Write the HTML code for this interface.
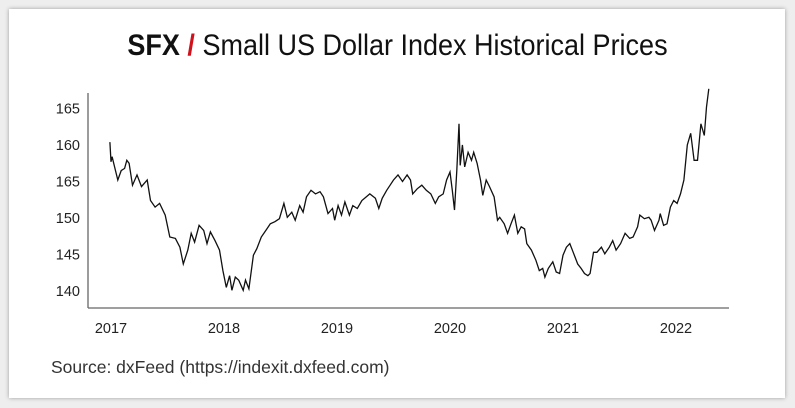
<!DOCTYPE html>
<html><head><meta charset="utf-8"><style>
body{margin:0;width:795px;height:408px;background:#eee;font-family:"Liberation Sans",sans-serif;overflow:hidden}
#card{position:absolute;left:9px;top:9px;width:776px;height:389px;background:#fff;box-shadow:0 0 4px rgba(0,0,0,.35)}
#title{position:absolute;left:0;top:29px;width:795px;text-align:center;font-family:"Liberation Sans Narrow","Liberation Sans",sans-serif;font-size:30px;color:#111;transform:scaleX(0.9);}
#src{position:absolute;left:51px;top:357px;font-size:17.5px;color:#333}
svg{position:absolute;left:0;top:0}
</style></head><body>
<div id="card"></div>
<div id="title"><b>SFX</b> <b style="color:#d0111b">/</b> Small US Dollar Index Historical Prices</div>
<svg id="chart" width="795" height="408"></svg>
<div id="src">Source: dxFeed (https://indexit.dxfeed.com)</div>
<script>
const yTickValues=[165,160,155,150,145,140];
const yTickLabels=["165","160","165","150","145","140"];
const xTickYears=[2017,2018,2019,2020,2021,2022];
const dates=[2016.99,2017.00,2017.01,2017.04,2017.06,2017.09,2017.12,2017.14,2017.16,2017.19,2017.23,2017.27,2017.32,2017.35,2017.39,2017.43,2017.48,2017.52,2017.57,2017.61,2017.64,2017.68,2017.71,2017.74,2017.78,2017.82,2017.85,2017.88,2017.92,2017.96,2017.99,2018.02,2018.05,2018.07,2018.10,2018.13,2018.17,2018.19,2018.22,2018.26,2018.29,2018.33,2018.38,2018.41,2018.45,2018.49,2018.53,2018.56,2018.60,2018.63,2018.67,2018.70,2018.73,2018.77,2018.81,2018.85,2018.88,2018.92,2018.96,2018.98,2019.01,2019.04,2019.07,2019.11,2019.14,2019.18,2019.22,2019.26,2019.29,2019.34,2019.37,2019.40,2019.44,2019.47,2019.50,2019.54,2019.58,2019.62,2019.65,2019.67,2019.71,2019.75,2019.79,2019.83,2019.87,2019.90,2019.94,2019.97,2020.00,2020.02,2020.04,2020.06,2020.08,2020.09,2020.11,2020.13,2020.16,2020.19,2020.21,2020.24,2020.27,2020.29,2020.32,2020.35,2020.39,2020.42,2020.44,2020.48,2020.51,2020.54,2020.57,2020.60,2020.63,2020.66,2020.68,2020.72,2020.76,2020.79,2020.82,2020.84,2020.87,2020.91,2020.94,2020.97,2021.00,2021.03,2021.06,2021.09,2021.13,2021.16,2021.19,2021.22,2021.24,2021.27,2021.30,2021.34,2021.37,2021.41,2021.44,2021.47,2021.51,2021.55,2021.59,2021.62,2021.66,2021.68,2021.72,2021.76,2021.78,2021.81,2021.85,2021.86,2021.89,2021.92,2021.95,2021.98,2022.01,2022.04,2022.07,2022.10,2022.13,2022.16,2022.19,2022.22,2022.25,2022.27,2022.29];
const prices=[160.4,157.7,158.4,156.5,155.2,156.5,156.8,157.9,157.5,154.5,155.9,154.3,155.2,152.4,151.5,152.0,150.4,147.4,147.2,146.0,143.7,145.6,147.9,146.7,149.0,148.3,146.5,148.1,146.9,145.6,142.8,140.5,142.1,140.1,141.9,141.5,140.1,141.5,140.3,144.9,145.8,147.4,148.5,149.2,149.5,149.9,152.0,150.1,150.8,149.7,151.7,150.8,152.9,153.8,153.3,153.6,152.9,150.6,151.3,149.7,151.7,150.4,152.2,150.4,151.7,151.3,152.4,152.9,153.3,152.7,151.3,152.7,153.8,154.5,155.2,155.9,155.0,155.9,155.2,153.3,154.0,154.5,153.8,153.3,152.0,152.9,153.3,155.2,156.3,153.8,151.1,156.5,162.9,157.2,160.0,157.0,159.0,157.9,159.0,157.5,155.2,153.1,155.2,154.3,152.9,149.7,150.1,149.2,147.9,149.2,150.4,147.9,148.8,148.5,146.5,145.6,144.2,142.8,143.1,141.9,143.1,144.0,142.6,142.4,144.9,146.0,146.5,145.3,143.7,143.1,142.4,142.1,142.4,145.3,145.3,146.0,145.1,146.0,146.9,145.6,146.5,147.9,147.2,147.4,148.8,150.4,149.9,150.1,149.7,148.3,149.7,150.6,149.0,149.2,151.5,152.4,152.0,153.3,155.2,160.0,161.6,157.9,157.9,162.9,161.3,165.2,167.7];
const NS="http://www.w3.org/2000/svg",svg=document.getElementById('chart');
const X0=88,X1=729,Y0=93,Y1=308;
const xs=t=>111+(t-2017)*113;
const ys=v=>291-(v-140)*7.3;
function mk(tag,attrs){const e=document.createElementNS(NS,tag);for(const k in attrs)e.setAttribute(k,attrs[k]);svg.appendChild(e);return e;}
let a=mk('line',{x1:X0,y1:Y0,x2:X0,y2:Y1,stroke:'#666','stroke-width':1.3});


a=mk('line',{x1:X0,y1:Y1,x2:X1,y2:Y1,stroke:'#666','stroke-width':1.3});


yTickValues.forEach((v,i)=>{const t=mk('text',{x:80,y:ys(v)+5,'text-anchor':'end','font-size':14.5,fill:'#222','font-family':'Liberation Sans, sans-serif'});t.textContent=yTickLabels[i];

});
xTickYears.forEach(y=>{const t=mk('text',{x:xs(y),y:333,'text-anchor':'middle','font-size':14.5,fill:'#222','font-family':'Liberation Sans, sans-serif'});t.textContent=y;

});
const d=dates.map((t,i)=>(i?'L':'M')+xs(t).toFixed(1)+' '+ys(prices[i]).toFixed(1)).join(' ');
const p=mk('path',{d:d,fill:'none',stroke:'#111','stroke-width':1.3,'stroke-linejoin':'miter'});


</script>
</body></html>
